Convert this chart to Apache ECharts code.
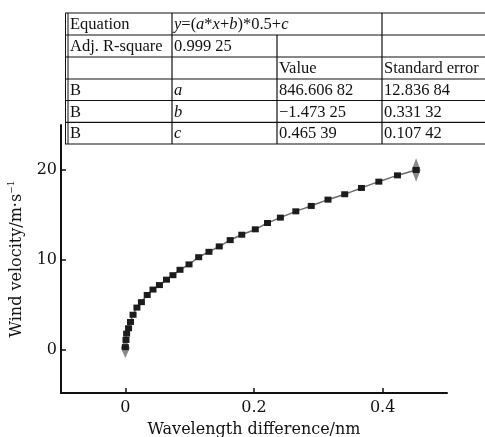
<!DOCTYPE html>
<html>
<head>
<meta charset="utf-8">
<script src="https://cdn.jsdelivr.net/npm/echarts@6/dist/echarts.min.js"></script>
<style>
  html, body { margin: 0; padding: 0; background: #fff; }
  #chart { width: 485px; height: 437px; }
</style>
</head>
<body>
<div id="chart"></div>
<script>
// measured points (wavelength difference, wind velocity)
const waveDiff = [0.000, 0.001, 0.002, 0.005, 0.008, 0.012, 0.018, 0.025, 0.034, 0.043, 0.053, 0.064, 0.074, 0.085, 0.099, 0.114,
  0.130, 0.146, 0.163, 0.181, 0.202, 0.221, 0.241, 0.265, 0.289, 0.315, 0.341, 0.367, 0.394, 0.423, 0.452];
const windVel = [0.3, 1.1, 1.8, 2.4, 3.1, 3.9, 4.7, 5.3, 6.1, 6.7, 7.2, 7.8, 8.3, 8.9, 9.5, 10.3,
  10.9, 11.5, 12.2, 12.8, 13.4, 14.1, 14.7, 15.4, 16.0, 16.7, 17.3, 18.0, 18.7, 19.4, 20.0];
// error bars: x, y, half range
const errX = [0.000, 0.452];
const errY = [0.2, 20.0];
const errHalf = [1.1, 1.3];

const xTicks = [0, 0.2, 0.4];
const yTicks = [0, 10, 20];

// fit table
const tableRows = [
  ['Equation', '', '', ''],
  ['Adj. R-square', '0.999 25', '', ''],
  ['', '', 'Value', 'Standard error'],
  ['B', 'a', '846.606 82', '12.836 84'],
  ['B', 'b', '\u22121.473 25', '0.331 32'],
  ['B', 'c', '0.465 39', '0.107 42']
];
const equationText = '{i|y}{n|=(}{i|a}{n|*}{i|x}{n|+}{i|b}{n|)*0.5+}{i|c}';

const chart = echarts.init(document.getElementById('chart'));

const colX = [67, 172, 277, 382, 486];
const rowY = [13, 35, 57, 79, 100.5, 122.3, 144];
const tableFont = '"Liberation Serif", "Times New Roman", serif';
const graphics = [];
// horizontal lines
rowY.forEach(function (y) {
  graphics.push({ type: 'line', shape: { x1: 65, y1: y, x2: 486, y2: y }, style: { stroke: '#111', lineWidth: 1.2 } });
});
// left double border
graphics.push({ type: 'line', shape: { x1: 65.5, y1: 13, x2: 65.5, y2: 144 }, style: { stroke: '#111', lineWidth: 1 } });
graphics.push({ type: 'line', shape: { x1: 68, y1: 13, x2: 68, y2: 144 }, style: { stroke: '#111', lineWidth: 1 } });
// inner verticals
for (let r = 0; r < tableRows.length; r++) {
  for (let c = 1; c < 4; c++) {
    if (r === 0 && c === 2) continue;
    graphics.push({ type: 'line', shape: { x1: colX[c], y1: rowY[r], x2: colX[c], y2: rowY[r + 1] }, style: { stroke: '#111', lineWidth: 1.2 } });
  }
}
// cell texts
tableRows.forEach(function (row, r) {
  row.forEach(function (txt, c) {
    let text = txt;
    let italic = (c === 1 && r >= 3);
    if (r === 0 && c === 1) text = equationText;
    if (!text) return;
    graphics.push({
      type: 'text',
      x: colX[c] + (c === 0 ? 3 : 2),
      y: (rowY[r] + rowY[r + 1]) / 2 + 1,
      style: {
        text: text,
        font: (italic ? 'italic ' : '') + '16.5px ' + tableFont,
        fill: '#111',
        verticalAlign: 'middle',
        rich: {
          i: { fontStyle: 'italic', fontSize: 16.5, fontFamily: tableFont, fill: '#111' },
          n: { fontSize: 16.5, fontFamily: tableFont, fill: '#111' }
        }
      }
    });
  });
});

const axisFont = '"DejaVu Serif", serif';

chart.setOption({
  animation: false,
  backgroundColor: '#fff',
  grid: { left: 61, right: 38, top: 125, bottom: 44, containLabel: false, outerBoundsMode: 'none' },
  xAxis: {
    type: 'value',
    min: -0.1,
    max: 0.5,
    name: 'Wavelength difference/nm',
    nameLocation: 'middle',
    nameGap: 29,
    nameTextStyle: { fontFamily: axisFont, fontSize: 16, color: '#111' },
    axisLine: { onZero: false, lineStyle: { color: '#111', width: 2 } },
    axisTick: { inside: true, length: 5, customValues: xTicks, lineStyle: { color: '#111', width: 1.5 } },
    axisLabel: { customValues: xTicks, fontFamily: axisFont, fontSize: 16, color: '#111', margin: 7 },
    splitLine: { show: false }
  },
  yAxis: {
    type: 'value',
    min: -4.8,
    max: 25,
    name: '{a|Wind velocity/m\u00b7s}{b|\u22121}',
    nameLocation: 'middle',
    nameGap: 28,
    nameTextStyle: {
      color: '#111',
      rich: {
        a: { fontFamily: axisFont, fontSize: 16, color: '#111', lineHeight: 20 },
        b: { fontFamily: axisFont, fontSize: 9, color: '#111', lineHeight: 20, verticalAlign: 'top', padding: [0, 0, 10, 0] }
      }
    },
    axisLine: { show: true, onZero: false, lineStyle: { color: '#111', width: 2 } },
    axisTick: { inside: true, length: 5, customValues: yTicks, lineStyle: { color: '#111', width: 1.5 } },
    axisLabel: { customValues: yTicks, fontFamily: axisFont, fontSize: 16, color: '#111', margin: 4 },
    splitLine: { show: false }
  },
  series: [
    {
      type: 'custom',
      z: 2,
      data: errX.map(function (x, i) { return [x, errY[i], errHalf[i]]; }),
      renderItem: function (params, api) {
        const x = api.value(0), y = api.value(1), h = api.value(2);
        const top = api.coord([x, y + h]);
        const bot = api.coord([x, y - h]);
        const mid = api.coord([x, y]);
        return {
          type: 'polygon',
          shape: { points: [[top[0], top[1]], [mid[0] + 4.5, mid[1]], [bot[0], bot[1]], [mid[0] - 4.5, mid[1]]] },
          style: { fill: '#8a8a8a' }
        };
      }
    },
    {
      type: 'line',
      z: 3,
      data: waveDiff.slice(1).map(function (x, i) { return [x, windVel[i + 1]]; }),
      smooth: 0.4,
      showSymbol: false,
      lineStyle: { color: '#6b6b6b', width: 1.5 }
    },
    {
      type: 'scatter',
      z: 4,
      data: waveDiff.map(function (x, i) { return [x, windVel[i]]; }),
      symbol: 'rect',
      symbolSize: [7, 6],
      itemStyle: { color: '#1c1c1c', opacity: 1 }
    }
  ],
  graphic: graphics
});
</script>
</body>
</html>
